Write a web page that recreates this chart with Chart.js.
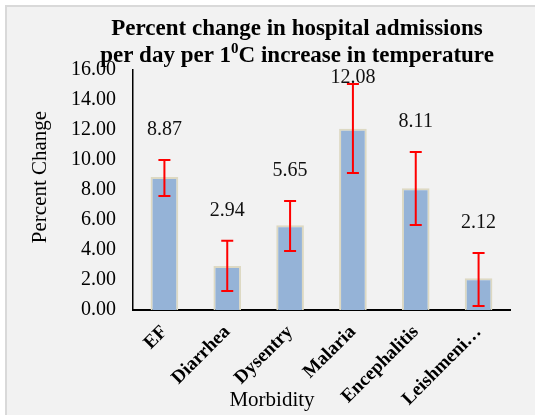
<!DOCTYPE html>
<html>
<head>
<meta charset="utf-8">
<script src="https://cdn.jsdelivr.net/npm/chart.js@4"></script>
<style>
  html, body { margin: 0; padding: 0; background: #fff; }
  #wrap {
    position: absolute; left: 5px; top: 5px; width: 528px; height: 408px;
    border-left: 2px solid #d9d9d9; border-top: 2px solid #d9d9d9;
    background: #f2f2f2; overflow: hidden;
  }
  canvas { display: block; }
</style>
</head>
<body>
<div id="wrap"><canvas id="chart" width="528" height="408"></canvas></div>
<script>
// Percent change in admissions per 1 degree C, by morbidity (bars + 95% CI whiskers)
const categories = ['EF', 'Diarrhea', 'Dysentry', 'Malaria', 'Encephalitis', 'Leishmeniasis'];
const percentChange = [8.87, 2.94, 5.65, 12.08, 8.11, 2.12];
const ciLow  = [7.6, 1.27, 3.93, 9.13, 5.67, 0.27];
const ciHigh = [10.0, 4.62, 7.27, 15.07, 10.53, 3.8];
const yTicks = [0, 2, 4, 6, 8, 10, 12, 14, 16];

const titleLine1 = 'Percent change in hospital admissions';
const titleLine2 = ['per day per 1', '0', 'C increase in temperature'];
const yTitle = 'Percent Change';
const xTitle = 'Morbidity';

const SERIF = '"Liberation Serif", "Times New Roman", serif';

// error bars + value labels, drawn through the chart's own scales
const errorBars = {
  id: 'errorBars',
  afterDatasetsDraw(chart) {
    const { ctx, scales: { x, y }, chartArea } = chart;
    ctx.save();
    ctx.strokeStyle = '#ff0000';
    ctx.lineWidth = 2;
    categories.forEach((c, i) => {
      const cx = x.getPixelForValue(i);
      const yl = y.getPixelForValue(ciLow[i]);
      const yh = y.getPixelForValue(ciHigh[i]);
      ctx.beginPath();
      ctx.moveTo(cx, yl); ctx.lineTo(cx, yh);
      ctx.moveTo(cx - 6, yl); ctx.lineTo(cx + 6, yl);
      ctx.moveTo(cx - 6, yh); ctx.lineTo(cx + 6, yh);
      ctx.stroke();
    });
    ctx.fillStyle = '#111';
    ctx.font = '20px ' + SERIF;
    ctx.textAlign = 'center';
    ctx.textBaseline = 'middle';
    categories.forEach((c, i) => {
      const cx = x.getPixelForValue(i);
      const ly = Math.max(y.getPixelForValue(ciHigh[i]) - 30, chartArea.top + 8);
      ctx.fillText(percentChange[i].toFixed(2), cx, ly);
    });
    ctx.restore();
  },
};

// titles (chart title has a superscript, so drawn by hand)
const titles = {
  id: 'titles',
  afterDraw(chart) {
    const { ctx } = chart;
    ctx.save();
    ctx.fillStyle = '#000';
    ctx.textBaseline = 'alphabetic';
    ctx.font = 'bold 23px ' + SERIF;
    ctx.textAlign = 'center';
    ctx.fillText(titleLine1, 290, 28);

    const big = 'bold 23px ' + SERIF, small = 'bold 15px ' + SERIF;
    ctx.font = big; const w1 = ctx.measureText(titleLine2[0]).width;
    const w3 = ctx.measureText(titleLine2[2]).width;
    ctx.font = small; const w2 = ctx.measureText(titleLine2[1]).width;
    let sx = 290 - (w1 + w2 + w3) / 2;
    ctx.textAlign = 'left';
    ctx.font = big; ctx.fillText(titleLine2[0], sx, 55); sx += w1;
    ctx.font = small; ctx.fillText(titleLine2[1], sx, 46); sx += w2;
    ctx.font = big; ctx.fillText(titleLine2[2], sx, 55);

    ctx.font = '21px ' + SERIF;
    ctx.textAlign = 'center';
    ctx.textBaseline = 'middle';
    ctx.fillText(xTitle, 265, 393);
    ctx.translate(33, 170);
    ctx.rotate(-Math.PI / 2);
    ctx.fillText(yTitle, 0, 0);
    ctx.restore();
  },
};

new Chart(document.getElementById('chart'), {
  type: 'bar',
  data: {
    labels: categories,
    datasets: [{
      data: percentChange,
      backgroundColor: '#95b3d7',
      borderColor: '#ddd9c3',
      borderWidth: 2,
      barPercentage: 0.44,
      categoryPercentage: 1,
    }],
  },
  options: {
    responsive: false,
    animation: false,
    layout: { padding: { top: 63, right: 25, left: 0, bottom: 0 } },
    plugins: { legend: { display: false }, tooltip: { enabled: false }, title: { display: false } },
    scales: {
      x: {
        grid: { display: false, drawTicks: false },
        border: { color: '#000', width: 2 },
        afterFit: (s) => { s.height = 105; },
        ticks: {
          color: '#000',
          font: { family: SERIF, size: 19, weight: 'bold' },
          minRotation: 45, maxRotation: 45,
          padding: 11,
          autoSkip: false,
          callback: (v, i) => categories[i].length > 12 ? categories[i].slice(0, 9) + '\u2026' : categories[i],
        },
      },
      y: {
        min: 0, max: 16,
        afterFit: (s) => { s.width = 126; },
        afterBuildTicks: (s) => { s.ticks = yTicks.map(v => ({ value: v })); },
        grid: { display: false, drawTicks: false },
        border: { color: '#000', width: 1.5 },
        ticks: {
          color: '#000',
          font: { family: SERIF, size: 20 },
          padding: 17,
          callback: (v) => Number(v).toFixed(2),
        },
      },
    },
  },
  plugins: [errorBars, titles],
});
</script>
</body>
</html>
